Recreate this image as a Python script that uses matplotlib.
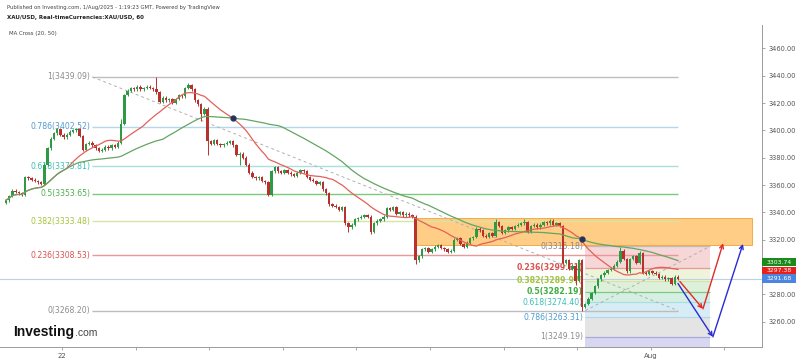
import matplotlib
matplotlib.use('Agg')
import matplotlib.pyplot as plt
import numpy as np
import pandas as pd
from matplotlib.patches import Rectangle
import matplotlib.transforms as mtransforms

# XAU/USD 60 min candles (closes, one per hour)
closes = [
    3349, 3352, 3356, 3355, 3354, 3353, 3366, 3365, 3364, 3363,
    3362, 3361, 3375, 3387, 3394, 3398, 3401, 3397, 3395, 3397,
    3399, 3400, 3401, 3396, 3386, 3390, 3391, 3389, 3387, 3385,
    3386, 3388, 3387, 3389, 3388, 3391, 3405, 3426, 3429, 3431,
    3430, 3432, 3430, 3431, 3432, 3431, 3430, 3428, 3421, 3424,
    3422, 3423, 3420, 3423, 3426, 3425, 3431, 3433, 3430, 3422,
    3419, 3412, 3416, 3392, 3390, 3393, 3390, 3389, 3390, 3391,
    3392, 3389, 3382, 3383, 3380, 3375, 3369, 3366, 3365, 3366,
    3363, 3362, 3353, 3370, 3373, 3370, 3369, 3371, 3369, 3368,
    3367, 3369, 3371, 3370, 3366, 3364, 3363, 3361, 3362, 3357,
    3354, 3346, 3345, 3344, 3342, 3344, 3332, 3329, 3331, 3335,
    3336, 3337, 3338, 3337, 3326, 3332, 3334, 3335, 3337, 3343,
    3342, 3344, 3339, 3340, 3338, 3339, 3338, 3337, 3305, 3308,
    3313, 3314, 3311, 3313, 3315, 3316, 3314, 3313, 3311, 3312,
    3320, 3321, 3317, 3315, 3318, 3321, 3322, 3328, 3327, 3323,
    3322, 3325, 3323, 3333, 3330, 3325, 3327, 3329, 3328, 3330,
    3331, 3332, 3333, 3326, 3330, 3331, 3329, 3331, 3333, 3332,
    3334, 3331, 3332, 3330, 3303, 3305, 3299, 3301, 3290, 3305,
    3271, 3273, 3277, 3281, 3286, 3291, 3294, 3296, 3298, 3299,
    3301, 3304, 3312, 3306, 3297, 3306, 3308, 3303, 3310, 3296,
    3295, 3297, 3296, 3295, 3292, 3293, 3291, 3292, 3288, 3293,
    3291.68,
]
first_open = 3347
# long wicks (candle index -> price)
wick_high = {36: 3408, 47: 3439.09, 57: 3435, 153: 3335, 162: 3335, 192: 3315, 198: 3312}
wick_low = {0: 3346, 61: 3407, 63: 3382, 73: 3375, 82: 3352, 107: 3326, 114: 3324,
            128: 3302, 178: 3287, 180: 3268.2}

# fibonacci retracement from the top
fib1_levels = ['1', '0.786', '0.618', '0.5', '0.382', '0.236', '0']
fib1_prices = [3439.09, 3402.52, 3373.81, 3353.65, 3333.48, 3308.53, 3268.20]
fib1_span = (27, 210)
# fibonacci retracement on the last leg
fib2_levels = ['0', '0.236', '0.382', '0.5', '0.618', '0.786', '1', '1.272']
fib2_prices = [3315.18, 3299.61, 3289.97, 3282.19, 3274.40, 3263.31, 3249.19, 3231.24]
fib2_span = (181, 220)

zone_span = (128, 233)        # orange supply zone
zone_prices = (3316.2, 3335.9)

red_path = [(210.6, 3289.5), (217.8, 3269.5), (224.1, 3317.5)]
blue_path = [(210.0, 3288.0), (220.9, 3249.0), (230.3, 3317.0)]

last_prices = [3303.74, 3297.38, 3291.68]
last_colors = ['#1a8a1a', '#e8201a', '#4a86e0']

price_ticks = [3260, 3280, 3300, 3320, 3340, 3360, 3380, 3400, 3420, 3440, 3460]
day_ticks = [17.5, 40.5, 63.5, 86.5, 109.5, 132.5, 155.5, 178.5, 201.5, 224.5]
day_labels = ['22', '', '', '', '', '', '', '', 'Aug', '']

# ---------------------------------------------------------------
closes = np.array(closes, dtype=float)
n = len(closes)
idx = np.arange(n)
opens = np.concatenate([[first_open], closes[:-1]])
highs = np.maximum(opens, closes) + 1.0
lows = np.minimum(opens, closes) - 1.0
for k, v in wick_high.items():
    highs[k] = v
for k, v in wick_low.items():
    lows[k] = v

s = pd.Series(closes)
ma20 = s.rolling(20, min_periods=1).mean().values
ma50 = s.rolling(50, min_periods=1).mean().values

fig = plt.figure(figsize=(8, 3.62), dpi=100)
ax = fig.add_axes([0.0, 15 / 362, 762 / 800, 322 / 362])
ax.set_xlim(-1.875, 236.25)
ax.set_ylim(3241.6, 3477.1)

# fib 1
c1_txt = ['#8c8c8c', '#4f9bd0', '#3dbdb5', '#4cb04c', '#a5c43c', '#d9534f', '#8c8c8c']
c1_line = ['#bdbdbd', '#b4d7ec', '#a9dfdc', '#7ccb7c', '#d6e4a4', '#e99a98', '#bdbdbd']
for lv, p, ct, cl in zip(fib1_levels, fib1_prices, c1_txt, c1_line):
    ax.hlines(p, fib1_span[0], fib1_span[1], color=cl, lw=1.0, zorder=1)
    ax.text(fib1_span[0] - 0.7, p, '%s(%.2f)' % (lv, p), color=ct, fontsize=5.6,
            ha='right', va='center', zorder=1)
ax.plot([fib1_span[0], fib1_span[1]], [fib1_prices[0], fib1_prices[-1]],
        ls=(0, (3, 3)), color='#b0b0b0', lw=0.7, zorder=1)

# fib 2 bands
band_cols = ['#f6d6d6', '#eef4da', '#ddf0da', '#d6efe4', '#d8ecf5', '#e4e4e4', '#d7d7f2']
c2_line = ['#bdbdbd', '#e99a98', '#d6e4a4', '#7ccb7c', '#a9dfdc', '#b4d7ec', '#a9a9d9']
c2_txt = ['#8c8c8c', '#d9534f', '#a5c43c', '#3fae3f', '#3dbdb5', '#4f9bd0', '#8c8c8c']
for j in range(len(fib2_prices) - 1):
    ax.fill_between([fib2_span[0], fib2_span[1]], fib2_prices[j + 1], fib2_prices[j],
                    color=band_cols[j], lw=0, zorder=0.5)
for j in range(len(fib2_prices) - 1):
    p = fib2_prices[j]
    ax.hlines(p, fib2_span[0], fib2_span[1], color=c2_line[j], lw=0.9, zorder=0.6)
    ax.text(fib2_span[0] - 0.7, p, '%s(%.2f)' % (fib2_levels[j], p), color=c2_txt[j],
            fontsize=5.6, ha='right', va='center', zorder=1,
            fontweight='bold' if j in (1, 2, 3) else 'normal')
ax.plot([fib2_span[0], fib2_span[1]], [fib1_prices[-1], fib2_prices[0]],
        ls=(0, (3, 3)), color='#b0b0b0', lw=0.7, zorder=1)

# supply zone
ax.add_patch(Rectangle((zone_span[0], zone_prices[0]), zone_span[1] - zone_span[0],
                       zone_prices[1] - zone_prices[0], facecolor='#ffc878',
                       edgecolor='#f2a43a', lw=0.7, alpha=0.9, zorder=0.8))

# last price line
ax.axhline(last_prices[2], color='#bcd0ea', lw=0.8, zorder=0.9)

# candles
up = closes >= opens
col = np.where(up, '#2e9a46', '#b8312f')
ax.vlines(idx, lows, highs, colors=col, lw=0.7, zorder=3)
body = np.maximum(np.abs(closes - opens), 0.5)
ax.bar(idx, body, bottom=np.minimum(opens, closes), width=0.72, color=col, lw=0, zorder=3)

# moving averages
ax.plot(idx, ma20, color='#e4605a', lw=0.9, zorder=4)
ax.plot(idx, ma50, color='#63a563', lw=0.9, zorder=4)
# mark where the fast MA falls under the slow one
d = np.sign(ma20 - ma50)
for i in range(30, n):
    if d[i] < 0 and d[i - 1] > 0:
        ax.plot(i, ma50[i], 'o', color='#27325e', ms=3.5, zorder=5)

# projection arrows
for path, c in ((red_path, '#e02a2a'), (blue_path, '#2a2ad6')):
    for a, b in zip(path[:-1], path[1:]):
        ax.annotate('', xy=b, xytext=a, zorder=6, annotation_clip=False,
                    arrowprops=dict(arrowstyle='->', color=c, lw=1.0,
                                    shrinkA=0, shrinkB=0, mutation_scale=7))

# axes styling
for sp in ('top', 'left'):
    ax.spines[sp].set_visible(False)
ax.spines['right'].set_color('#9a9a9a')
ax.spines['bottom'].set_color('#9a9a9a')
ax.spines['right'].set_linewidth(0.7)
ax.spines['bottom'].set_linewidth(0.7)
ax.yaxis.tick_right()
ax.set_yticks(price_ticks)
# the 3300 label sits under the last value boxes
ax.set_yticklabels(['' if v == 3300 else '%.2f' % v for v in price_ticks])
ax.tick_params(axis='y', labelsize=4.8, labelcolor='#555555', color='#9a9a9a',
               length=2.5, width=0.6, pad=2)
ax.set_xticks(day_ticks)
ax.set_xticklabels(day_labels)
ax.tick_params(axis='x', labelsize=5, labelcolor='#555555', color='#9a9a9a',
               length=2.5, width=0.6, pad=1.5)

# last value boxes on the price axis
tr = mtransforms.blended_transform_factory(ax.transAxes, ax.transData)
for p, c in zip(last_prices, last_colors):
    ax.add_patch(Rectangle((1.0, p - 2.95), 34 / 762, 5.9, transform=tr,
                           facecolor=c, lw=0, clip_on=False, zorder=7))
    ax.text(1.0 + 17 / 762, p, '%.2f' % p, transform=tr, color='white', fontsize=4.4,
            ha='center', va='center', zorder=8, clip_on=False)

# header texts
fig.text(7 / 800, 1 - 7 / 362, 'Published on Investing.com, 1/Aug/2025 - 1:19:23 GMT, Powered by TradingView',
         fontsize=3.8, color='#444444', va='center')
fig.text(7 / 800, 1 - 17 / 362, 'XAU/USD, Real-timeCurrencies:XAU/USD, 60',
         fontsize=4.0, color='#222222', va='center', fontweight='bold')
fig.text(9 / 800, 1 - 33 / 362, 'MA Cross (20, 50)', fontsize=3.9, color='#444444', va='center')

# logo
fig.text(13 / 800, 1 - 336 / 362, 'Investing', fontsize=10, fontweight='bold',
         family='Liberation Sans', color='#111111', va='baseline')
fig.text(75 / 800, 1 - 336 / 362, '.com', fontsize=7.5, family='Liberation Sans',
         color='#444444', va='baseline')

fig.savefig('out.png', dpi=100)
